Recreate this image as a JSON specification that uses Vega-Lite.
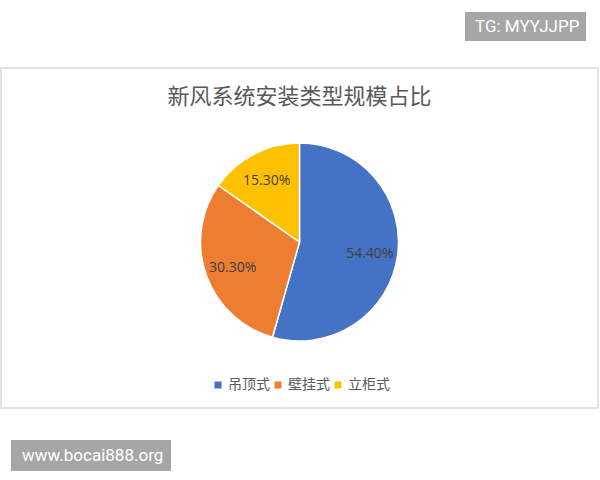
{
  "$schema": "https://vega.github.io/schema/vega-lite/v6.json",
  "width": 597,
  "height": 340,
  "autosize": {"type": "none"},
  "padding": {"left": 1, "top": 68, "right": 2, "bottom": 72},
  "background": "white",
  "view": {"stroke": "#d9d9d9", "strokeWidth": 1.5, "fill": "white"},
  "config": {"view": {"stroke": "#d9d9d9", "strokeWidth": 1.5}},
  "title": {
    "text": "新风系统安装类型规模占比",
    "fontSize": 22,
    "font": "Noto Sans CJK SC",
    "fontWeight": "normal",
    "color": "#595959",
    "offset": -97,
    "anchor": "middle",
    "frame": "group"
  },
  "layer": [
    {
      "data": {"values": [
        {"type": "吊顶式", "share": 0.544},
        {"type": "壁挂式", "share": 0.303},
        {"type": "立柜式", "share": 0.153}
      ]},
      "layer": [
        {
          "mark": {"type": "arc", "outerRadius": 99, "stroke": "white", "strokeWidth": 1.5, "yOffset": 4},
          "encoding": {
            "theta": {"field": "share", "type": "quantitative", "stack": true},
            "order": {"field": "share", "type": "quantitative", "sort": "descending"},
            "color": {
              "field": "type",
              "type": "nominal",
              "scale": {"domain": ["吊顶式", "壁挂式", "立柜式"], "range": ["#4472C4", "#ED7D31", "#FFC000"]},
              "legend": {
                "orient": "none",
                "legendX": 210,
                "legendY": 310,
                "direction": "horizontal",
                "title": null,
                "symbolType": "square",
                "symbolSize": 49,
                "symbolStrokeWidth": 0,
                "labelFontSize": 14,
                "labelFont": "Noto Sans CJK SC",
                "labelColor": "#595959",
                "columnPadding": 1,
                "labelOffset": 3
              }
            }
          }
        },
        {
          "mark": {"type": "text", "radius": 71, "yOffset": 6, "font": "Open Sans", "fontSize": 14, "color": "#404040"},
          "encoding": {
            "theta": {"field": "share", "type": "quantitative", "stack": true},
            "order": {"field": "share", "type": "quantitative", "sort": "descending"},
            "text": {"field": "share", "type": "quantitative", "format": ".2%"}
          }
        }
      ]
    },
    {
      "data": {"values": [{"tg": "TG: MYYJJPP", "site": "www.bocai888.org"}]},
      "mark": {"type": "point", "opacity": 0},
      "encoding": {
        "shape": {
          "field": "tg",
          "type": "nominal",
          "legend": {
            "orient": "none",
            "legendX": 464,
            "legendY": -56,
            "title": null,
            "fillColor": "#a6a6a6",
            "padding": 6,
            "labelColor": "white",
            "labelFont": "Roboto",
            "labelFontSize": 17,
            "labelLimit": 300,
            "symbolSize": 0,
            "symbolOpacity": 0,
            "symbolStrokeWidth": 0,
            "labelOffset": -13
          }
        },
        "fill": {
          "field": "site",
          "type": "nominal",
          "legend": {
            "orient": "none",
            "legendX": 10,
            "legendY": 372,
            "title": null,
            "fillColor": "#a6a6a6",
            "padding": 7,
            "labelColor": "white",
            "labelFont": "Roboto",
            "labelFontSize": 17,
            "labelLimit": 300,
            "symbolSize": 0,
            "symbolOpacity": 0,
            "symbolStrokeWidth": 0,
            "labelOffset": -13
          }
        }
      }
    }
  ]
}
